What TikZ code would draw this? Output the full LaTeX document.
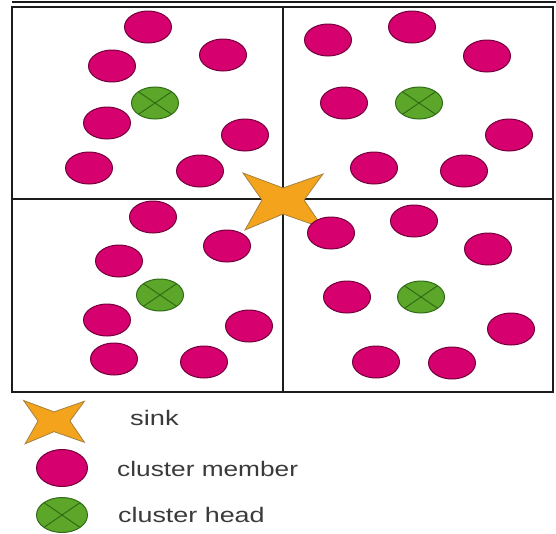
\documentclass[tikz,border=0pt]{standalone}
\usepackage{fontspec}
\setmainfont{Liberation Sans}
\usepackage{xcolor}
\usepackage{tikz}
\usetikzlibrary{shapes.geometric, positioning}
\definecolor{memberpink}{RGB}{214,0,110}
\definecolor{memberedge}{RGB}{115,0,60}
\definecolor{headgreen}{RGB}{92,166,42}
\definecolor{headedge}{RGB}{48,108,22}
\definecolor{sinkorange}{RGB}{243,164,28}
\definecolor{sinkedge}{RGB}{165,128,60}
\definecolor{gridline}{RGB}{28,28,28}
\definecolor{labelgray}{RGB}{58,58,58}
\tikzset{
  member/.style={
    ellipse, minimum width=47pt, minimum height=32pt, inner sep=0pt,
    draw=memberedge, fill=memberpink, line width=1pt
  },
  chead/.style={
    ellipse, minimum width=47pt, minimum height=32pt, inner sep=0pt,
    draw=headedge, fill=headgreen, line width=1pt,
    path picture={
      \draw[headedge, line width=1pt]
        (path picture bounding box.north west) -- (path picture bounding box.south east)
        (path picture bounding box.south west) -- (path picture bounding box.north east);
    }
  },
  sinkstar/.pic={
    \draw[draw=sinkedge, fill=sinkorange, line width=0.8pt]
      (-40,-27) -- (0,-12) -- (40,-26) -- (21,0) -- (40,28)
      -- (0,14) -- (-38,30) -- (-21,0) -- cycle;
  },
  legendtext/.style={
    anchor=west, inner sep=0pt, text=labelgray,
    font=\fontsize{21}{25}\selectfont
  },
  frame/.style={draw=gridline, line width=1.8pt},
  divider/.style={draw=gridline, line width=1.4pt}
}
\begin{document}
\begin{tikzpicture}[x=1pt, y=-1pt]
  \useasboundingbox (0,0) rectangle (556,533);

  % Field and quadrants
  \draw[frame] (12,2) -- (556,2);
  \draw[frame] (12,7) rectangle (553,392);
  \draw[divider] (283,7) -- (283,392);
  \draw[divider] (12,199) -- (553,199);

  % Sink
  \pic at (283,200) {sinkstar};

  % Top left cluster
  \node[member] (tl1) at (148,27) {};
  \node[member] (tl2) at (223,55) {};
  \node[member] (tl3) at (112,66) {};
  \node[member] (tl4) at (107,123) {};
  \node[member] (tl5) at (245,135) {};
  \node[member] (tl6) at (89,168) {};
  \node[member] (tl7) at (200,171) {};
  \node[chead] (htl) at (155,103) {};

  % Top right cluster
  \node[member] (tr1) at (328,40) {};
  \node[member] (tr2) at (412,27) {};
  \node[member] (tr3) at (487,56) {};
  \node[member] (tr4) at (344,103) {};
  \node[member] (tr5) at (509,135) {};
  \node[member] (tr6) at (374,168) {};
  \node[member] (tr7) at (464,171) {};
  \node[chead] (htr) at (419,103) {};

  % Bottom left cluster
  \node[member] (bl1) at (153,217) {};
  \node[member] (bl2) at (227,246) {};
  \node[member] (bl3) at (119,261) {};
  \node[member] (bl4) at (107,320) {};
  \node[member] (bl5) at (249,326) {};
  \node[member] (bl6) at (114,359) {};
  \node[member] (bl7) at (204,362) {};
  \node[chead] (hbl) at (160,295) {};

  % Bottom right cluster
  \node[member] (br1) at (331,233) {};
  \node[member] (br2) at (414,221) {};
  \node[member] (br3) at (488,249) {};
  \node[member] (br4) at (347,297) {};
  \node[member] (br5) at (511,329) {};
  \node[member] (br6) at (376,362) {};
  \node[member] (br7) at (452,363) {};
  \node[chead] (hbr) at (421,297) {};

  % Legend
  \pic[scale=0.76] at (54,421) {sinkstar};
  \node[member, minimum width=51pt, minimum height=37pt] (keymember) at (62,468) {};
  \node[chead, minimum width=51pt, minimum height=35pt] (keyhead) at (62,515) {};
  \node[legendtext] (sinklabel) at (130,418) {\scalebox{1.3}[1]{sink}};
  \node[legendtext] (memberlabel) at (117,469) {\scalebox{1.25}[1]{cluster member}};
  \node[legendtext] (headlabel) at (118,515) {\scalebox{1.28}[1]{cluster head}};
\end{tikzpicture}
\end{document}
